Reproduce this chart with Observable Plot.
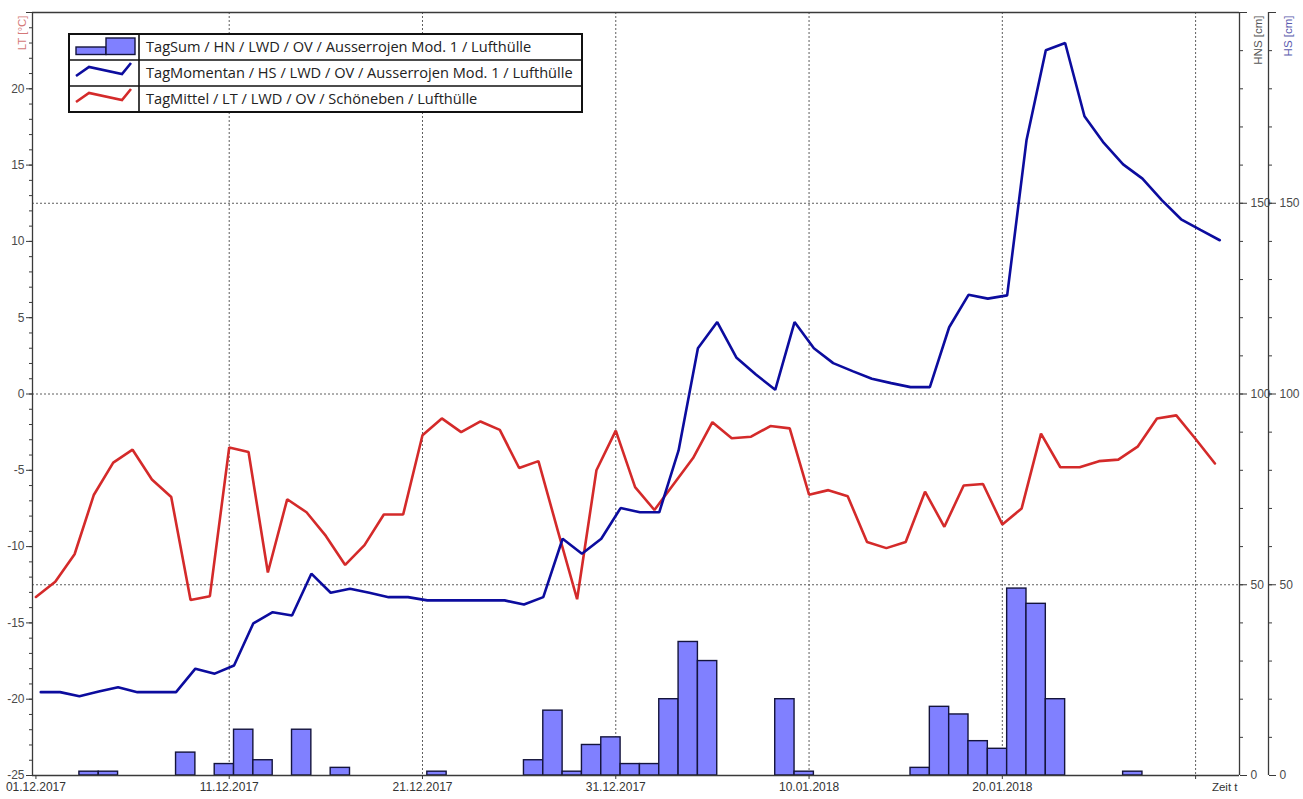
<!DOCTYPE html>
<html>
<head>
<meta charset="utf-8">
<script src="https://cdn.jsdelivr.net/npm/d3@7"></script>
<script src="https://cdn.jsdelivr.net/npm/@observablehq/plot@0.6"></script>
<style>
  html, body { margin: 0; padding: 0; background: #fff; }
  #wrap { position: relative; width: 1303px; height: 799px; overflow: hidden; }
  #wrap > svg { display: block; }
</style>
</head>
<body>
<div id="wrap"></div>
<script>
// ---------------- data ----------------
const startDay = "2017-12-01";   // first daily value
const dayCount = 62;             // 01.12.2017 .. 31.01.2018

// TagMittel / LT (°C), one value per day (00:00)
const ltValues = [
  -13.3, -12.3, -10.5, -6.6, -4.5, -3.65, -5.6, -6.75, -13.5, -13.25,
  -3.5, -3.8, -11.7, -6.9, -7.75, -9.3, -11.2, -9.9, -7.9, -7.9,
  -2.7, -1.6, -2.5, -1.8, -2.35, -4.85, -4.4, -8.95, -13.45, -5.0,
  -2.4, -6.1, -7.6, -5.9, -4.2, -1.85, -2.9, -2.8, -2.1, -2.25,
  -6.6, -6.3, -6.7, -9.7, -10.1, -9.7, -6.4, -8.7, -6.0, -5.9,
  -8.55, -7.5, -2.6, -4.8, -4.8, -4.4, -4.3, -3.45, -1.6, -1.4,
  -2.95, -4.55
];

// TagMomentan / HS (cm), one value per day (morning reading)
const hsValues = [
  21.85, 21.85, 20.8, 22.0, 23.15, 21.85, 21.85, 21.85, 28.0, 26.7,
  28.85, 39.9, 42.8, 41.95, 52.9, 47.9, 48.95, 47.9, 46.75, 46.75,
  45.9, 45.9, 45.9, 45.9, 45.9, 44.8, 46.75, 62.05, 58.1, 62.05,
  70.1, 69.0, 69.0, 85.2, 112.0, 118.85, 109.5, 105.1, 101.1, 118.85,
  112.0, 108.1, 106.0, 104.0, 102.85, 101.8, 101.8, 117.5, 126.0, 125.0,
  125.85, 166.5, 190.1, 192.0, 172.8, 165.8, 160.2, 156.45, 150.8, 145.8,
  143.0, 140.3
];

// TagSum / HN (cm): day on which the 24 h sum starts, and its value
const hnDates = [
  "2017-12-03", "2017-12-04", "2017-12-08", "2017-12-10", "2017-12-11", "2017-12-12",
  "2017-12-14", "2017-12-16", "2017-12-21", "2017-12-26", "2017-12-27", "2017-12-28",
  "2017-12-29", "2017-12-30", "2017-12-31", "2018-01-01", "2018-01-02", "2018-01-03",
  "2018-01-04", "2018-01-08", "2018-01-09", "2018-01-15", "2018-01-16", "2018-01-17",
  "2018-01-18", "2018-01-19", "2018-01-20", "2018-01-21", "2018-01-22", "2018-01-26"
];
const hnValues = [
  1, 1, 6, 3, 12, 4,
  12, 2, 1, 4, 17, 1,
  8, 10, 3, 3, 20, 35,
  30, 20, 1, 2, 18, 16,
  9, 7, 49, 45, 20, 1
];

// axes
const xTickDates = ["2017-12-01", "2017-12-11", "2017-12-21", "2017-12-31", "2018-01-10", "2018-01-20", "2018-01-30"];
const xTickLabels = ["01.12.2017", "11.12.2017", "21.12.2017", "31.12.2017", "10.01.2018", "20.01.2018", ""];
const ltTicks = [-25, -20, -15, -10, -5, 0, 5, 10, 15, 20, 25];
const ltLabelled = [-25, -20, -15, -10, -5, 0, 5, 10, 15, 20];
const hsTicks = [0, 50, 100, 150, 200];
const hsLabelled = [0, 50, 100, 150];
const gridHs = [50, 100, 150];

const legendLabels = [
  "TagSum / HN / LWD / OV / Ausserrojen Mod. 1 / Lufthülle",
  "TagMomentan / HS / LWD / OV / Ausserrojen Mod. 1 / Lufthülle",
  "TagMittel / LT / LWD / OV / Schöneben / Lufthülle"
];

// ---------------- build ----------------
const HOUR = 3600e3, DAY = 24 * HOUR;
const readingOffset = 6 * HOUR;
const ltDomain = [-25, 25], hsDomain = [0, 200];
const ltToHs = v => (v - ltDomain[0]) / (ltDomain[1] - ltDomain[0]) * (hsDomain[1] - hsDomain[0]);
const hsToLt = v => Math.round(v / (hsDomain[1] - hsDomain[0]) * (ltDomain[1] - ltDomain[0]) + ltDomain[0]);

const t0 = +new Date(startDay);
const days = d3.range(dayCount).map(i => new Date(t0 + i * DAY));
const ltData = days.map((d, i) => ({t: d, v: ltValues[i]}));
const hsData = days.map((d, i) => ({t: new Date(+d + readingOffset), v: hsValues[i]}));
const hnData = hnDates.map((s, i) => ({
  t1: new Date(+new Date(s) + readingOffset),
  t2: new Date(+new Date(s) + readingOffset + DAY),
  v: hnValues[i]
}));

const xDomain = [new Date("2017-11-30T19:45:00Z"), new Date("2018-02-01T06:30:00Z")];
const xTicks = xTickDates.map(s => new Date(s));
const labelOf = d => xTickLabels[xTicks.findIndex(t => +t === +d)] ?? "";

const ltMinor = d3.range(ltDomain[0], ltDomain[1] + 1, 1).map(ltToHs);
const hsMinor = d3.range(hsDomain[0], hsDomain[1] + 1, 10);

const axisColor = "#3a3a3a";
const textColor = "#4a4a4a";
const hsDx = 29;

const chart = Plot.plot({
  width: 1303,
  height: 799,
  marginLeft: 32,
  marginRight: 64,
  marginTop: 12,
  marginBottom: 24,
  style: {fontFamily: "'Liberation Sans', Arial, sans-serif", fontSize: "12px", color: axisColor, background: "#fff", overflow: "visible"},
  x: {type: "utc", domain: xDomain, label: null},
  y: {domain: hsDomain, label: null},
  marks: [
    // dotted grid
    Plot.ruleX(xTicks.slice(1), {stroke: "#5e5e5e", strokeWidth: 1, strokeDasharray: "2,2"}),
    Plot.ruleY(gridHs, {stroke: "#5e5e5e", strokeWidth: 1, strokeDasharray: "2,2"}),
    // HN bars
    Plot.rect(hnData, {x1: "t1", x2: "t2", y1: 0, y2: "v", fill: "#8080ff", stroke: "#14143c", strokeWidth: 1.4}),
    // LT line (on the left scale)
    Plot.line(ltData, {x: "t", y: d => ltToHs(d.v), stroke: "#d42a2a", strokeWidth: 2.6, strokeLinejoin: "miter"}),
    // HS line
    Plot.line(hsData, {x: "t", y: "v", stroke: "#0c0c9e", strokeWidth: 2.6, strokeLinejoin: "miter"}),
    // frame
    Plot.ruleY([hsDomain[0], hsDomain[1]], {stroke: axisColor, strokeWidth: 1.3}),
    Plot.ruleX([xDomain[0], xDomain[1]], {stroke: axisColor, strokeWidth: 1.3}),
    Plot.ruleX([xDomain[1]], {stroke: axisColor, strokeWidth: 1.3, dx: hsDx}),
    // left LT axis
    Plot.axisY(ltMinor, {anchor: "left", tickSize: 3, tickFormat: () => "", label: null}),
    Plot.axisY(ltTicks.map(ltToHs), {anchor: "left", tickSize: 6, tickPadding: 2, label: null,
      tickFormat: v => ltLabelled.includes(hsToLt(v)) ? String(hsToLt(v)) : "", fill: textColor}),
    // right HNS axis
    Plot.axisY(hsMinor, {anchor: "right", tickSize: 3, tickFormat: () => "", label: null}),
    Plot.axisY(hsTicks, {anchor: "right", tickSize: 7, tickPadding: 4, label: null,
      tickFormat: v => hsLabelled.includes(v) ? String(v) : "", fill: textColor}),
    // right HS axis
    Plot.axisY(hsMinor, {anchor: "right", tickSize: 3, tickFormat: () => "", label: null, dx: hsDx}),
    Plot.axisY(hsTicks, {anchor: "right", tickSize: 7, tickPadding: 4, label: null, dx: hsDx,
      tickFormat: v => hsLabelled.includes(v) ? String(v) : "", fill: textColor}),
    // x axis
    Plot.axisX(xTicks, {anchor: "bottom", tickSize: 4, tickPadding: 3, label: null, tickFormat: labelOf, fill: "#333"}),
    Plot.text(["Zeit t"], {frameAnchor: "bottom-right", textAnchor: "end", dx: -2, dy: 15, fill: "#333", fontSize: 11.5}),
    // axis titles
    Plot.text(["LT [°C]"], {frameAnchor: "top-left", rotate: -90, textAnchor: "end", dx: -15, dy: 3, fill: "#d47878", fontSize: 11.5}),
    Plot.text(["HNS [cm]"], {frameAnchor: "top-right", rotate: -90, textAnchor: "end", dx: 14, dy: 3, fill: "#555", fontSize: 11.5}),
    Plot.text(["HS [cm]"], {frameAnchor: "top-right", rotate: -90, textAnchor: "end", dx: 44, dy: 3, fill: "#5a5aae", fontSize: 11.5})
  ]
});

const wrap = document.getElementById("wrap");
wrap.appendChild(chart);

// legend box (overlaid on the plot area)
const lgX = 68, lgY = 33, lgW = 513, lgH = 78, rowH = lgH / 3, symW = 70;
const lg = d3.select(wrap).append("svg")
  .attr("width", lgW + 3).attr("height", lgH + 3)
  .style("position", "absolute").style("left", lgX + "px").style("top", lgY + "px");
lg.append("rect").attr("x", 1).attr("y", 1).attr("width", lgW).attr("height", lgH)
  .attr("fill", "#fff").attr("stroke", "#111").attr("stroke-width", 2);
[1, 2].forEach(i => lg.append("line").attr("x1", 1).attr("x2", lgW + 1)
  .attr("y1", 1 + i * rowH).attr("y2", 1 + i * rowH).attr("stroke", "#111").attr("stroke-width", 1.6));
lg.append("line").attr("x1", 1 + symW).attr("x2", 1 + symW).attr("y1", 1).attr("y2", lgH + 1)
  .attr("stroke", "#111").attr("stroke-width", 1.6);
// symbols
lg.append("rect").attr("x", 8).attr("y", 14).attr("width", 30).attr("height", 7.5)
  .attr("fill", "#8080ff").attr("stroke", "#14143c").attr("stroke-width", 1.4);
lg.append("rect").attr("x", 38).attr("y", 5).attr("width", 29).attr("height", 16.5)
  .attr("fill", "#8080ff").attr("stroke", "#14143c").attr("stroke-width", 1.4);
const sym = (dy, color) => lg.append("path")
  .attr("d", `M8,${dy + 16} L21,${dy + 7} L54,${dy + 14} L63,${dy + 3}`)
  .attr("fill", "none").attr("stroke", color).attr("stroke-width", 2.6);
sym(1 + rowH, "#0c0c9e");
sym(1 + 2 * rowH, "#d42a2a");
legendLabels.forEach((s, i) => lg.append("text")
  .attr("x", symW + 8).attr("y", 1 + i * rowH + rowH / 2 + 5.2)
  .attr("font-family", "'Open Sans', sans-serif").attr("font-size", 14.6).attr("fill", "#222")
  .text(s));
</script>
</body>
</html>
